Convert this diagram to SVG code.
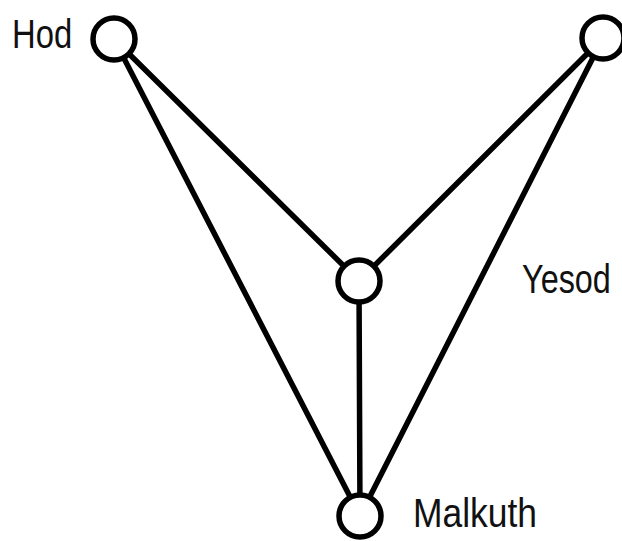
<svg xmlns="http://www.w3.org/2000/svg" width="622" height="541" viewBox="0 0 622 541">
<style>
.edge{stroke:#000;stroke-width:5.5;fill:none;stroke-linecap:round}
.node{fill:#fff;stroke:#000;stroke-width:5.5}
.lbl{font-family:"Liberation Sans",Arial,sans-serif;font-size:41px;fill:#111}
</style>
<rect width="622" height="541" fill="#fff"/>
<g id="connectors">
<line class="edge" x1="114" y1="39" x2="360" y2="516"/>
<line class="edge" x1="114" y1="39" x2="359" y2="281"/>
<line class="edge" x1="603" y1="38" x2="359" y2="281"/>
<line class="edge" x1="603" y1="38" x2="360" y2="516"/>
<line class="edge" x1="359" y1="281" x2="360" y2="516"/>
</g>
<g id="hod">
<circle class="node" cx="114" cy="39" r="21"/>
<text class="lbl" transform="translate(12,48) scale(0.8,1)">Hod</text>
</g>
<g id="netzach">
<circle class="node" cx="603" cy="38" r="21"/>
</g>
<g id="yesod">
<circle class="node" cx="359" cy="281" r="21"/>
<text class="lbl" transform="translate(522,293) scale(0.79,1)">Yesod</text>
</g>
<g id="malkuth">
<circle class="node" cx="360" cy="516" r="21"/>
<text class="lbl" transform="translate(413,527) scale(0.864,1)">Malkuth</text>
</g>
</svg>
